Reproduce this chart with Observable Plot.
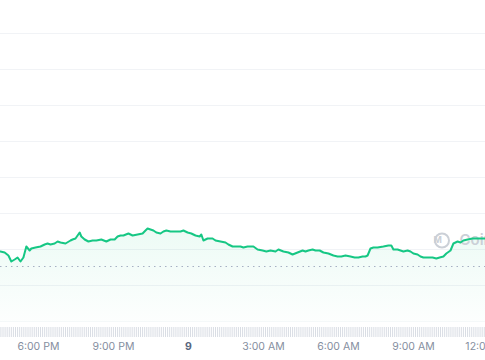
<!DOCTYPE html>
<html><head><meta charset="utf-8">
<script src="https://cdn.jsdelivr.net/npm/d3@7"></script>
<script src="https://cdn.jsdelivr.net/npm/@observablehq/plot@0.6"></script>
<style>
html,body{margin:0;padding:0;background:#fff;}
#chart{width:485px;height:360px;overflow:hidden;font-family:Inter,sans-serif;}
#chart svg{display:block;}
</style></head><body><div id="chart"></div>
<script>
// Price series (time of day, price)
const times = [
 "16:29","16:39","16:48","16:55","17:03","17:10","17:17","17:24","17:31","17:39",
 "17:43","17:53","18:05","18:15","18:22","18:29","18:39","18:46","18:53","19:05",
 "19:17","19:22","19:29","19:39","19:43","19:51","20:00","20:10","20:19","20:31",
 "20:43","20:53","21:03","21:10","21:17","21:24","21:36","21:46","21:58","22:10",
 "22:17","22:22","22:29","22:36","22:43","22:53","23:00","23:07","23:17","23:29",
 "23:41","23:48","23:58","00:07","00:17","00:27","00:31","00:36","00:46","00:58",
 "01:05","01:17","01:29","01:36","01:46","01:53","02:05","02:12","02:22","02:29",
 "02:36","02:46","02:58","03:07","03:17","03:29","03:36","03:48","04:00","04:10",
 "04:22","04:34","04:41","04:48","04:58","05:05","05:15","05:24","05:36","05:48",
 "05:58","06:07","06:17","06:29","06:39","06:48","06:58","07:05","07:10","07:17",
 "07:24","07:34","07:48","08:00","08:07","08:12","08:22","08:29","08:36","08:46",
 "08:53","09:00","09:10","09:17","09:24","09:36","09:46","09:55","10:03","10:12",
 "10:19","10:29","10:36","10:46","10:53","11:00","11:10","11:22","11:36","11:53"
];
const prices = [
 1.034,1.033,1.030,1.024,1.026,1.028,1.024,1.028,1.039,1.035,
 1.037,1.038,1.039,1.041,1.042,1.041,1.042,1.044,1.043,1.042,
 1.045,1.046,1.047,1.053,1.049,1.046,1.044,1.045,1.045,1.046,
 1.044,1.046,1.046,1.049,1.050,1.050,1.052,1.050,1.051,1.052,
 1.055,1.057,1.056,1.055,1.053,1.052,1.054,1.055,1.054,1.054,
 1.054,1.055,1.053,1.052,1.050,1.049,1.051,1.045,1.047,1.047,
 1.045,1.044,1.043,1.041,1.039,1.039,1.039,1.038,1.039,1.039,
 1.039,1.036,1.035,1.034,1.035,1.034,1.036,1.034,1.033,1.031,
 1.033,1.035,1.034,1.035,1.036,1.035,1.035,1.033,1.032,1.030,
 1.029,1.029,1.030,1.029,1.028,1.028,1.029,1.029,1.030,1.037,
 1.038,1.038,1.039,1.040,1.040,1.036,1.036,1.035,1.034,1.035,
 1.034,1.032,1.031,1.029,1.028,1.028,1.028,1.027,1.028,1.029,
 1.032,1.035,1.042,1.044,1.043,1.045,1.046,1.047,1.047,1.047
];
const openPrice = 1.019;
const gridValues = [1.000, 1.036, 1.072, 1.108, 1.144, 1.180, 1.216, 1.252];
const priceDomain = [0.963, 1.285];
const timeDomain = ["16:29", "11:53"];

// x axis ticks
const tickTimes = ["18:00","21:00","00:00","03:00","06:00","09:00","12:00"];
const tickLabels = ["6:00 PM","9:00 PM","9","3:00 AM","6:00 AM","9:00 AM","12:00 PM"];
const tickBold = [false,false,true,false,false,false,false];

// Volume bars (5-minute buckets starting 16:30)
const volumeStart = "16:30";
const volumeStepMinutes = 5;
const volumes = [
 10,10,10,10,10,10,10,10,10,10,10,10,10,10,10,10,10,10,10,10,
 10,10,10,10,10,10,10,10,10,10,10,10,10,10,10,10,10,10,10,10,
 10,10,10,10,10,10,10,10,10,10,10,10,10,10,10,10,10,10,10,10,
 10,10,10,10,10,10,10,10,10,10,10,10,10,10,10,10,10,10,10,10,
 10,10,10,10,10,10,10,10,10,10,10,10,10,10,10,10,10,10,10,10,
 10,10,10,10,10,10,10,10,10,10,10,10,10,10,10,10,10,10,10,10,
 10,10,10,10,10,10,10,10,10,10,10,10,10,10,10,10,10,10,10,10,
 10,10,10,10,10,10,10,10,10,10,10,10,10,10,10,10,10,10,10,10,
 10,10,10,10,10,10,10,10,10,10,10,10,10,10,10,10,10,10,10,10,
 10,10,10,10,10,10,10,10,10,10,10,10,10,10,10,10,10,10,10,10,
 10,10,10,10,10,10,10,10,10,10,10,10,10,10,10,10,10,10,10,10,
 10,10,10,10,10,10,10,10,10,10,10,10,10
];

function toDate(hm) {
  const [h, m] = hm.split(":").map(Number);
  return new Date(Date.UTC(2024, 5, h >= 16 ? 8 : 9, h, m));
}
const xDomain = timeDomain.map(toDate);
const data = times.map((t, i) => ({date: toDate(t), price: prices[i]}));
const startMs = toDate(volumeStart).getTime();
const volData = volumes.map((v, i) => ({date: new Date(startMs + i * volumeStepMinutes * 60000), volume: v}));
const ticks = tickTimes.map((t, i) => ({date: toDate(t), label: tickLabels[i], bold: tickBold[i]}));

const green = "#16c784";
const wm = "#cbd0d7";

const main = Plot.plot({
  width: 485, height: 322, margin: 0,
  style: {fontFamily: "Inter, sans-serif", background: "transparent"},
  x: {type: "utc", domain: xDomain, axis: null},
  y: {domain: priceDomain, axis: null},
  marks: [
    Plot.ruleY(gridValues, {stroke: "#f1f3f6", strokeWidth: 1}),
    Plot.ruleY([priceDomain[0]], {stroke: "#eff2f5", strokeWidth: 1, dy: -0.5}),
    Plot.areaY(data, {x: "date", y1: priceDomain[0], y2: "price", fill: "url(#cmcGrad)"}),
    Plot.ruleY([openPrice], {stroke: "#a6b0c3", strokeWidth: 1, strokeDasharray: "1.5,4"}),
    Plot.dot([0], {frameAnchor: "right", dx: -43.5, dy: 79, r: 7, stroke: wm, strokeWidth: 2, fill: "none"}),
    Plot.text(["M"], {frameAnchor: "right", dx: -43.5, dy: 79, fill: wm, fontSize: 9, fontWeight: 700}),
    Plot.text(["CoinMarketCap"], {frameAnchor: "right", dx: -26, dy: 79, textAnchor: "start", fill: wm, fontSize: 15, fontWeight: 600}),
    Plot.lineY(data, {x: "date", y: "price", stroke: green, strokeWidth: 2})
  ]
});
d3.select(main).insert("defs", ":first-child").html(
  `<linearGradient id="cmcGrad" x1="0" y1="0" x2="0" y2="1">
     <stop offset="0%" stop-color="${green}" stop-opacity="0.08"/>
     <stop offset="100%" stop-color="${green}" stop-opacity="0.01"/>
   </linearGradient>`);

const vol = Plot.plot({
  width: 485, height: 38, marginTop: 5, marginBottom: 23, marginLeft: 0, marginRight: 0,
  style: {fontFamily: "Inter, sans-serif", background: "transparent"},
  x: {type: "utc", domain: xDomain, axis: null},
  y: {domain: [0, 10], axis: null},
  marks: [
    Plot.ruleX(volData, {x: "date", y1: 0, y2: "volume", stroke: "#d9dde4", strokeWidth: 1}),
    Plot.text(ticks.filter(d => !d.bold), {x: "date", text: "label", frameAnchor: "bottom", dy: 12, fill: "#858ea0", fontSize: 10.5}),
    Plot.text(ticks.filter(d => d.bold), {x: "date", text: "label", frameAnchor: "bottom", dy: 12, fill: "#58667e", fontSize: 10.5, fontWeight: 700})
  ]
});

const chart = document.getElementById("chart");
chart.appendChild(main);
chart.appendChild(vol);
</script></body></html>
